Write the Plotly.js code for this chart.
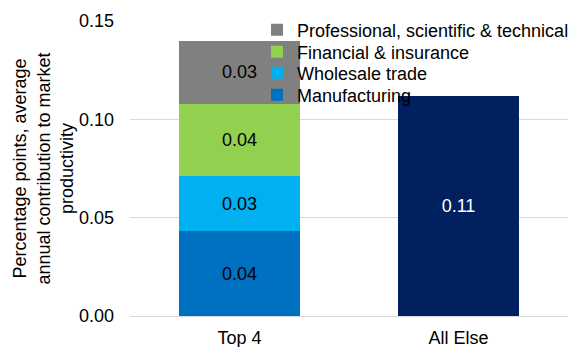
<!DOCTYPE html>
<html>
<head>
<meta charset="utf-8">
<script src="https://cdn.plot.ly/plotly-3.0.1.min.js"></script>
<style>
  html, body { margin: 0; padding: 0; background: #ffffff; }
  #chart { width: 577px; height: 347px; }
</style>
</head>
<body>
<div id="chart"></div>
<script>
// Categories on the x axis
const categories = ["Top 4", "All Else"];

// Industry contributions stacked in the "Top 4" bar (percentage points)
const manufacturing = [0.043, null];
const wholesaleTrade = [0.028, null];
const financialInsurance = [0.037, null];
const professionalScientific = [0.032, null];

// Remaining industries combined
const allElse = [null, 0.112];

const seriesNames = [
  "Manufacturing",
  "Wholesale trade",
  "Financial & insurance",
  "Professional, scientific & technical"
];
const seriesValues = [manufacturing, wholesaleTrade, financialInsurance, professionalScientific];
const seriesColors = ["#0070C0", "#00B0F0", "#92D050", "#808080"];

const FONT = "Liberation Sans, Arial, sans-serif";
const FS = 18;

// plot area in pixels (margins below)
const M = { l: 130, r: 9, t: 21, b: 31, autoexpand: false };
const W = 577, H = 347;
const plotW = W - M.l - M.r, plotH = H - M.t - M.b;

// one legend box per series so the rows sit close together
const legendIds = ["legend", "legend2", "legend3", "legend4"];
const legendRowY = [95, 73, 52, 30];   // pixel centre of each row, top of page = 0
const legendLeft = 257;

const traces = seriesNames.map((name, i) => ({
  type: "bar",
  name: name,
  x: categories,
  y: seriesValues[i],
  legend: legendIds[i],
  marker: { color: seriesColors[i], line: { width: 0 } },
  texttemplate: "%{y:.2f}",
  textposition: "inside",
  insidetextanchor: "middle",
  textangle: 0,
  constraintext: "none",
  textfont: { family: FONT, size: FS, color: "#000000" },
  hoverinfo: "skip"
}));

traces.push({
  type: "bar",
  name: "All Else",
  x: categories,
  y: allElse,
  showlegend: false,
  marker: { color: "#002060", line: { width: 0 } },
  texttemplate: "%{y:.2f}",
  textposition: "inside",
  insidetextanchor: "middle",
  textangle: 0,
  constraintext: "none",
  textfont: { family: FONT, size: FS, color: "#ffffff" },
  hoverinfo: "skip"
});

const layout = {
  width: W,
  height: H,
  margin: M,
  paper_bgcolor: "#ffffff",
  plot_bgcolor: "#ffffff",
  barmode: "stack",
  bargap: 0.443,
  font: { family: FONT, size: FS, color: "#000000" },
  xaxis: {
    type: "category",
    showgrid: false,
    showline: true,
    linecolor: "#d9d9d9",
    linewidth: 1,
    ticks: "",
    ticklabelstandoff: 5,
    tickfont: { family: FONT, size: FS, color: "#000000" },
    fixedrange: true
  },
  yaxis: {
    range: [0, 0.15],
    tickvals: [0, 0.05, 0.10, 0.15],
    ticktext: ["0.00", "0.05", "0.10", "0.15"],
    showgrid: true,
    gridcolor: "#d9d9d9",
    gridwidth: 1,
    zeroline: false,
    showline: false,
    ticks: "",
    ticklen: 0,
    ticklabelstandoff: 15,
    tickfont: { family: FONT, size: FS, color: "#000000" },
    title: {
      text: "Percentage points, average<br>annual contribution to market<br>productivity",
      font: { family: FONT, size: FS, color: "#000000" }
    },
    fixedrange: true
  },
  showlegend: true
};

legendIds.forEach((id, i) => {
  layout[id] = {
    x: (legendLeft - M.l) / plotW,
    xanchor: "left",
    y: (H - M.b - legendRowY[i]) / plotH,
    yanchor: "middle",
    bgcolor: "rgba(0,0,0,0)",
    borderwidth: 0,
    font: { family: FONT, size: FS, color: "#000000" },
    itemwidth: 30
  };
});

Plotly.newPlot("chart", traces, layout, { displayModeBar: false, staticPlot: true });
</script>
</body>
</html>
